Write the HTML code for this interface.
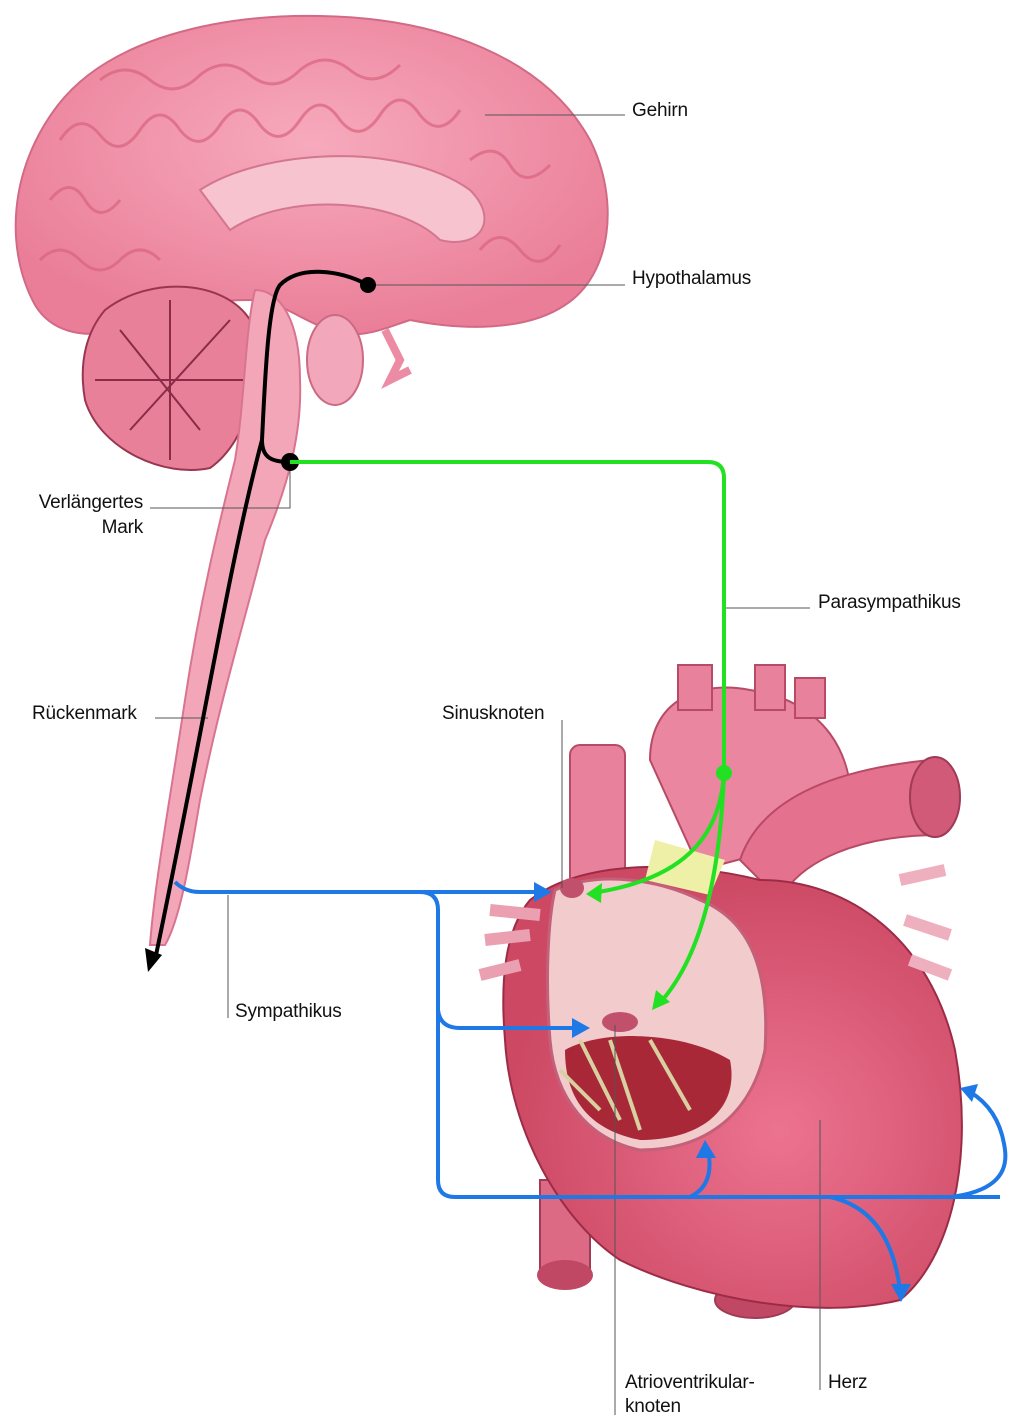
<!DOCTYPE html>
<html><head><meta charset="utf-8"><style>
html,body{margin:0;padding:0;background:#fff;}
svg{display:block}
text{font-family:"Liberation Sans",sans-serif;font-size:19px;fill:#111;letter-spacing:-0.2px}
</style></head><body>
<svg width="1024" height="1421" viewBox="0 0 1024 1421" xmlns="http://www.w3.org/2000/svg">
<defs>
<radialGradient id="br" cx="50%" cy="40%" r="60%"><stop offset="0" stop-color="#f7aabd"/><stop offset="1" stop-color="#ea7e98"/></radialGradient>
<radialGradient id="ht" cx="60%" cy="60%" r="60%"><stop offset="0" stop-color="#ec7390"/><stop offset="1" stop-color="#cc4863"/></radialGradient>
</defs>
<!-- brain -->
<path d="M35,305 C5,250 8,170 58,105 C110,38 220,14 320,16 C440,18 545,58 590,140 C620,200 612,275 565,305 C525,332 460,330 410,320 C380,330 360,340 330,330 C300,320 280,300 250,300 C200,300 150,310 120,330 C80,340 50,330 35,305 Z" fill="url(#br)" stroke="#d26a86" stroke-width="2"/>
<g fill="none" stroke="#d9637f" stroke-width="3" opacity="0.7">
<path d="M60,140 q20,-30 40,-5 q20,25 40,-5 q20,-30 40,0 q20,25 40,-5 q20,-30 40,0 q20,25 40,-5 q20,-30 40,0 q20,25 40,-5 q20,-30 40,0 q20,25 40,-5"/>
<path d="M50,200 q20,-25 35,0 q15,25 35,0 M470,160 q25,-20 40,5 q15,25 40,0 M480,250 q20,-25 40,0 q20,25 40,-5"/>
<path d="M100,80 q25,-20 50,0 q25,20 50,-5 q25,-20 50,0 q25,20 50,-5 q25,-20 50,0 q25,20 50,-5"/>
<path d="M40,260 q20,-20 40,0 q20,20 40,0 q20,-20 40,0"/>
</g>
<path d="M200,190 C260,150 400,140 470,190 C500,220 480,250 440,240 C400,200 290,190 230,230 Z" fill="#f7c3ce" stroke="#d47690" stroke-width="2"/>
<!-- cerebellum -->
<path d="M105,310 C150,275 225,280 250,320 C265,370 250,440 210,468 C165,478 100,450 85,400 C78,360 88,330 105,310 Z" fill="#e8809a" stroke="#9a3550" stroke-width="2"/>
<g fill="none" stroke="#8a2c46" stroke-width="2"><path d="M120,330 L200,430 M230,320 L130,430 M170,300 L170,460 M95,380 L245,380"/></g>
<!-- brainstem / spinal cord -->
<path d="M255,290 C280,290 300,320 300,380 C302,430 290,480 265,540 C245,620 220,700 200,800 C190,860 180,920 165,945 L150,945 C155,880 170,800 185,700 C200,600 220,520 235,460 C245,400 245,330 255,290 Z" fill="#f4a6b9" stroke="#d87490" stroke-width="2"/>
<ellipse cx="335" cy="360" rx="28" ry="45" fill="#f2a8ba" stroke="#cc6a84" stroke-width="2"/>
<path d="M385,330 L400,360 L390,380 L410,370" fill="none" stroke="#ec8ca4" stroke-width="8"/>
<!-- heart vessels -->
<rect x="570" y="745" width="55" height="160" rx="10" fill="#e8829c" stroke="#b84a66" stroke-width="2"/>
<path d="M650,760 C650,700 700,680 750,690 C820,700 860,750 850,830 L700,870 Z" fill="#ea86a0" stroke="#b84a66" stroke-width="2"/>
<rect x="678" y="665" width="34" height="45" fill="#e8829c" stroke="#b84a66" stroke-width="2"/>
<rect x="755" y="665" width="30" height="45" fill="#e8829c" stroke="#b84a66" stroke-width="2"/>
<rect x="795" y="678" width="30" height="40" fill="#e8829c" stroke="#b84a66" stroke-width="2"/>
<path d="M740,860 C760,800 830,770 930,760 L940,835 C860,835 800,860 780,900 Z" fill="#e4728e" stroke="#b84a66" stroke-width="2"/>
<ellipse cx="935" cy="797" rx="25" ry="40" fill="#d05a78" stroke="#a03a56" stroke-width="2"/>
<rect x="540" y="1180" width="50" height="100" fill="#dc6a84" stroke="#a03a56" stroke-width="2"/>
<ellipse cx="565" cy="1275" rx="28" ry="15" fill="#c04864"/>
<ellipse cx="755" cy="1300" rx="40" ry="18" fill="#c04864" stroke="#a03a56" stroke-width="2"/>
<!-- heart body -->
<path d="M530,900 C580,860 680,860 760,880 C850,880 930,940 955,1050 C975,1160 950,1260 900,1300 C820,1320 700,1300 620,1260 C560,1220 510,1130 505,1040 C500,980 505,930 530,900 Z" fill="url(#ht)" stroke="#9c2c46" stroke-width="2"/>
<path d="M655,840 L725,860 L710,895 L645,880 Z" fill="#eef0a8"/>
<!-- opened interior -->
<path d="M555,890 C600,870 660,880 700,900 C750,920 770,970 765,1050 C750,1120 700,1150 640,1150 C590,1140 555,1100 550,1040 C545,980 548,920 555,890 Z" fill="#f2cccc" stroke="#c4607a" stroke-width="3"/>
<path d="M565,1050 C600,1030 680,1030 730,1060 C740,1110 700,1140 640,1140 C590,1130 565,1100 565,1050 Z" fill="#a82838"/>
<path d="M580,1040 L620,1120 M610,1040 L640,1130 M650,1040 L690,1110 M560,1070 L600,1110" stroke="#d8d0a0" stroke-width="4"/>
<ellipse cx="620" cy="1022" rx="18" ry="10" fill="#c0506c"/>
<ellipse cx="572" cy="888" rx="12" ry="10" fill="#c0506c"/>
<path d="M490,910 L540,915 M485,940 L530,935 M480,975 L520,965" stroke="#eba0b2" stroke-width="12"/>
<path d="M900,880 L945,870 M905,920 L950,935 M910,960 L950,975" stroke="#eeb0be" stroke-width="12"/>
<!-- leader lines -->
<g stroke="#555" stroke-width="1" fill="none">
<path d="M485,115 L625,115"/>
<path d="M368,285 L625,285"/>
<path d="M150,508 L290,508 L290,465"/>
<path d="M724,608 L810,608"/>
<path d="M155,718 L208,718"/>
<path d="M562,720 L562,888"/>
<path d="M228,895 L228,1018"/>
<path d="M615,1025 L615,1415"/>
<path d="M820,1120 L820,1390"/>
</g>
<!-- black pathway -->
<path d="M368,285 C340,270 300,265 280,285 C268,300 265,380 262,440 C262,458 272,462 290,462" fill="none" stroke="#000" stroke-width="4"/>
<path d="M262,440 C230,560 205,720 155,960" fill="none" stroke="#000" stroke-width="4"/>
<path d="M148,972 L145,948 L162,955 Z" fill="#000"/>
<circle cx="368" cy="285" r="8" fill="#000"/>
<circle cx="290" cy="462" r="9" fill="#000"/>
<!-- green -->
<path d="M290,462 L708,462 Q724,462 724,478 L724,773" fill="none" stroke="#22e022" stroke-width="4"/>
<path d="M724,773 C720,840 680,880 592,893" fill="none" stroke="#22e022" stroke-width="4"/>
<path d="M724,773 C720,880 700,960 658,1005" fill="none" stroke="#22e022" stroke-width="4"/>
<circle cx="724" cy="773" r="8" fill="#22e022"/>
<path d="M586,894 L602,883 L601,903 Z" fill="#22e022"/>
<path d="M652,1010 L656,990 L670,1002 Z" fill="#22e022"/>
<!-- blue -->
<g fill="none" stroke="#1e78e6" stroke-width="4">
<path d="M175,882 Q185,892 200,892 L540,892"/>
<path d="M420,892 Q438,892 438,910 L438,1180 Q438,1197 455,1197 L1000,1197"/>
<path d="M438,1010 Q440,1028 460,1028 L578,1028"/>
<path d="M690,1197 Q715,1185 708,1150"/>
<path d="M950,1197 Q1010,1190 1005,1150 Q1000,1110 970,1092"/>
<path d="M830,1197 Q890,1210 900,1290"/>
</g>
<g fill="#1e78e6">
<path d="M552,892 L534,882 L534,902 Z"/>
<path d="M590,1028 L572,1018 L572,1038 Z"/>
<path d="M705,1140 L696,1158 L716,1158 Z"/>
<path d="M960,1088 L978,1084 L972,1102 Z"/>
<path d="M901,1302 L891,1284 L911,1284 Z"/>
</g>
<!-- labels -->
<text x="632" y="116">Gehirn</text>
<text x="632" y="284">Hypothalamus</text>
<text x="143" y="508" text-anchor="end">Verlängertes</text>
<text x="143" y="533" text-anchor="end">Mark</text>
<text x="818" y="608">Parasympathikus</text>
<text x="32" y="719">Rückenmark</text>
<text x="442" y="719">Sinusknoten</text>
<text x="235" y="1017">Sympathikus</text>
<text x="625" y="1388">Atrioventrikular-</text>
<text x="625" y="1412">knoten</text>
<text x="828" y="1388">Herz</text>
</svg>
</body></html>
